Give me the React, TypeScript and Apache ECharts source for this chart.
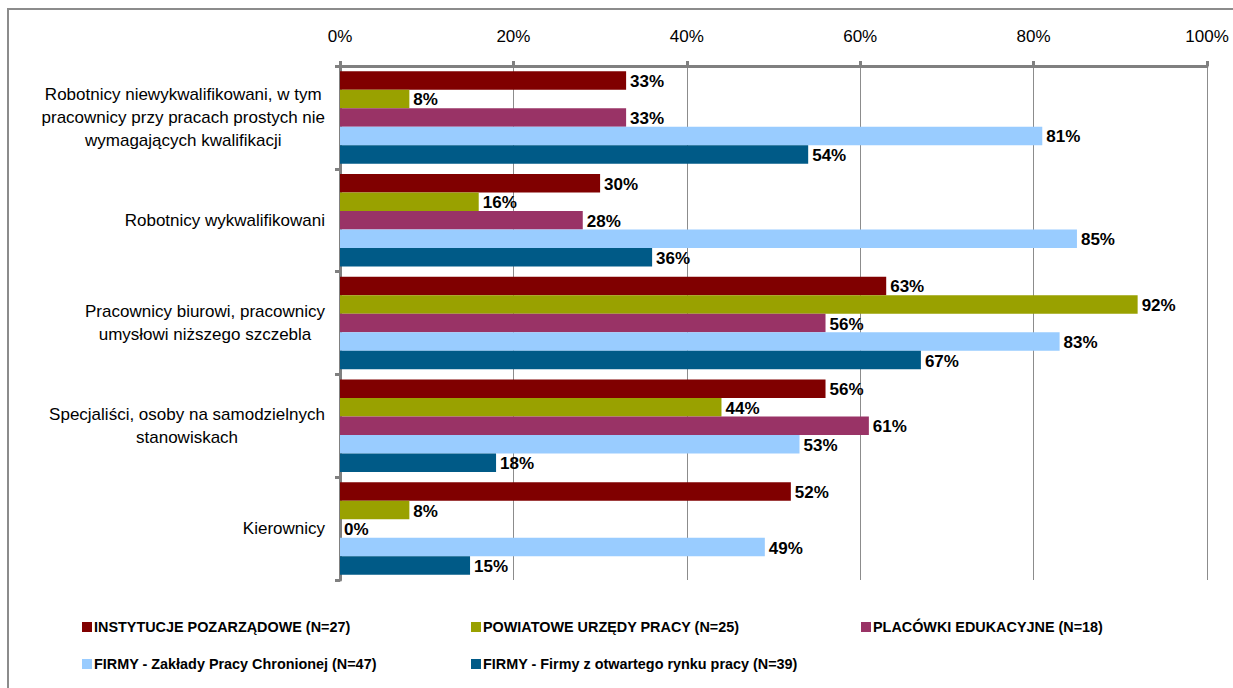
import React, { useEffect, useRef } from "react";
import * as echarts from "echarts";

const categories = [
  "Robotnicy niewykwalifikowani, w tym\npracownicy przy pracach prostych nie\nwymagających kwalifikacji",
  "Robotnicy wykwalifikowani",
  "Pracownicy biurowi, pracownicy\numysłowi niższego szczebla",
  "Specjaliści, osoby na samodzielnych\nstanowiskach",
  "Kierownicy",
];

const seriesNames = [
  "INSTYTUCJE POZARZĄDOWE (N=27)",
  "POWIATOWE URZĘDY PRACY (N=25)",
  "PLACÓWKI EDUKACYJNE (N=18)",
  "FIRMY - Zakłady Pracy Chronionej (N=47)",
  "FIRMY - Firmy z otwartego rynku pracy (N=39)",
];

const instytucje = [33, 30, 63, 56, 52];
const powiatowe = [8, 16, 92, 44, 8];
const placowki = [33, 28, 56, 61, 0];
const zpch = [81, 85, 83, 53, 49];
const otwarty = [54, 36, 67, 18, 15];

const seriesValues = [instytucje, powiatowe, placowki, zpch, otwarty];
const colors = ["#800000", "#99A100", "#993366", "#99CCFF", "#005A87"];

const xTicks = [0, 20, 40, 60, 80, 100];

const FONT = "'Liberation Sans', Arial, sans-serif";

const legendPos = [
  { left: 82, top: 620 },
  { left: 471, top: 620 },
  { left: 861, top: 620 },
  { left: 82, top: 657 },
  { left: 471, top: 657 },
];

export default function App() {
  const ref = useRef<HTMLDivElement>(null);
  useEffect(() => {
    if (!ref.current) return;
    const chart = echarts.init(ref.current, null, { renderer: "svg" });
    const option: any = {
      animation: false,
      backgroundColor: "#ffffff",
      graphic: [
        {
          type: "rect",
          shape: { x: 8, y: 9, width: 1400, height: 900 },
          style: { fill: "none", stroke: "#8c8c8c", lineWidth: 2 },
          silent: true,
          z: -1,
        },
      ],
      grid: { left: 340, right: 26, top: 66, bottom: 108, containLabel: false },
      legend: seriesNames.map((n, i) => ({
        data: [n],
        left: legendPos[i].left,
        top: legendPos[i].top,
        icon: "rect",
        itemWidth: 10,
        itemHeight: 10,
        itemGap: 0,
        padding: 0,
        textStyle: {
          fontFamily: FONT,
          fontSize: 14.4,
          fontWeight: "bold",
          color: "#000",
          padding: [0, 0, 0, -3],
        },
        selectedMode: false,
      })),
      xAxis: {
        type: "value",
        position: "top",
        min: xTicks[0],
        max: xTicks[xTicks.length - 1],
        interval: 20,
        axisLine: { show: true, lineStyle: { color: "#808080", width: 3 } },
        axisTick: { show: true, length: 5, lineStyle: { color: "#808080", width: 3 } },
        axisLabel: {
          formatter: "{value}%",
          fontFamily: FONT,
          fontSize: 17,
          color: "#000",
          margin: 21,
        },
        splitLine: { show: true, lineStyle: { color: "#8c8c8c", width: 1 } },
      },
      yAxis: {
        type: "category",
        inverse: true,
        data: categories,
        axisLine: { show: true, lineStyle: { color: "#808080", width: 3 } },
        axisTick: { show: true, length: 5, lineStyle: { color: "#808080", width: 3 } },
        axisLabel: {
          fontFamily: FONT,
          fontSize: 17,
          color: "#000",
          margin: 15,
          align: "right",
          lineHeight: 23,
          formatter: (v: string) =>
            v
              .split("\n")
              .map((l) => `{a|${l}}`)
              .join("\n"),
          rich: {
            a: {
              fontFamily: FONT,
              fontSize: 17,
              color: "#000",
              align: "center",
              lineHeight: 23,
            },
          },
        },
      },
      series: seriesNames.map((name, i) => ({
        name,
        type: "bar",
        data: seriesValues[i],
        barGap: "0%",
        barCategoryGap: "10%",
        itemStyle: { color: colors[i] },
        label: {
          show: true,
          position: "right",
          distance: 4,
          offset: [0, 1],
          formatter: "{c}%",
          fontFamily: FONT,
          fontSize: 17,
          fontWeight: "bold",
          color: "#000",
        },
      })),
    };
    chart.setOption(option);
    return () => chart.dispose();
  }, []);
  return (
    <div
      ref={ref}
      style={{ position: "absolute", left: 0, top: 0, width: 1233, height: 688 }}
    />
  );
}
